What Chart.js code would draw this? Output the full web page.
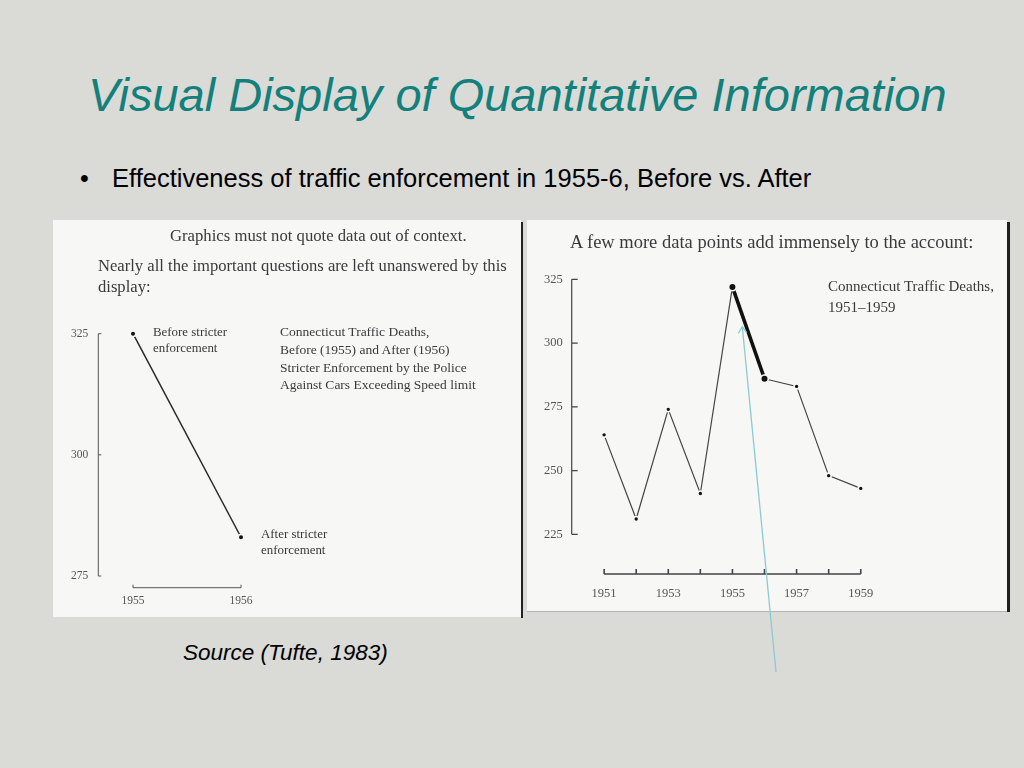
<!DOCTYPE html>
<html><head><meta charset="utf-8">
<script src="https://cdn.jsdelivr.net/npm/chart.js@4.4.1/dist/chart.umd.min.js"></script>
<style>
html,body{margin:0;padding:0;}
body{width:1024px;height:768px;position:relative;overflow:hidden;background:#dadad7;font-family:"Liberation Sans",Arial,sans-serif;}
.abs{position:absolute;white-space:nowrap;line-height:1;}
.serif{font-family:"Liberation Serif","DejaVu Serif",serif;color:#3a3a3a;}
.panel{position:absolute;background:#f7f7f5;}
#panelL{left:53px;top:220px;width:468px;height:397px;}
#panelR{left:527px;top:220px;width:480px;height:392px;}
#sep{position:absolute;left:521px;top:222px;width:2px;height:396px;background:#222;}
#edgeR{position:absolute;left:1007px;top:222px;width:3px;height:390px;background:#1e1e1e;}
#botR{position:absolute;left:527px;top:611px;width:480px;height:1px;background:#b4b4b4;}
#title{left:88px;top:71px;font-size:47px;font-style:italic;color:#12807b;}
#bullet{left:80px;top:166px;font-size:25px;color:#000;}
#btext{left:112px;top:166px;font-size:25.5px;color:#000;}
#source{left:183px;top:642px;font-size:22.5px;font-style:italic;color:#000;}
svg{position:absolute;left:0;top:0;}
</style></head>
<body>
<div class="panel" id="panelL"><canvas id="chartL"></canvas></div>
<div id="sep"></div>
<div class="panel" id="panelR"><canvas id="chartR"></canvas></div>
<div id="edgeR"></div>
<div id="botR"></div>

<div class="abs" id="title">Visual Display of Quantitative Information</div>
<div class="abs" id="bullet">•</div>
<div class="abs" id="btext">Effectiveness of traffic enforcement in 1955-6, Before vs. After</div>
<div class="abs" id="source">Source (Tufte, 1983)</div>

<!-- left panel texts -->
<div class="abs serif" style="left:170px;top:228px;font-size:16.7px;">Graphics must not quote data out of context.</div>
<div class="abs serif" style="left:98px;top:258px;font-size:16.6px;">Nearly all the important questions are left unanswered by this</div>
<div class="abs serif" style="left:98px;top:279px;font-size:16.6px;">display:</div>
<div class="abs serif" style="left:153px;top:326px;font-size:12.9px;">Before stricter</div>
<div class="abs serif" style="left:153px;top:342px;font-size:12.9px;">enforcement</div>
<div class="abs serif" style="left:280px;top:325px;font-size:13.5px;">Connecticut Traffic Deaths,</div>
<div class="abs serif" style="left:280px;top:343px;font-size:13.5px;">Before (1955) and After (1956)</div>
<div class="abs serif" style="left:280px;top:361px;font-size:13.5px;">Stricter Enforcement by the Police</div>
<div class="abs serif" style="left:280px;top:378px;font-size:13.5px;">Against Cars Exceeding Speed limit</div>
<div class="abs serif" style="left:261px;top:528px;font-size:12.9px;">After stricter</div>
<div class="abs serif" style="left:261px;top:544px;font-size:12.9px;">enforcement</div>

<!-- right panel texts -->
<div class="abs serif" style="left:570px;top:233px;font-size:18.5px;">A few more data points add immensely to the account:</div>
<div class="abs serif" style="left:828px;top:279px;font-size:15px;">Connecticut Traffic Deaths,</div>
<div class="abs serif" style="left:828px;top:300px;font-size:15px;">1951–1959</div>

<svg width="1024" height="768">
  <g stroke="#8ccad2" stroke-width="1.3" fill="none">
    <line x1="776" y1="672" x2="742.3" y2="326.7"/>
    <polyline points="738.3,333.5 742.3,326.7 746.7,332.7"/>
  </g>
</svg>

<script>
// ---- data ----
const leftYears = [1955, 1956];
const leftDeaths = [325, 283];
const leftYTicks = [275, 300, 325];
const leftXTicks = [1955, 1956];

const rightYears = [1951, 1952, 1953, 1954, 1955, 1956, 1957, 1958, 1959];
const rightDeaths = [264, 231, 274, 241, 322, 286, 283, 248, 243];
const rightYTicks = [225, 250, 275, 300, 325];
const rightXLabels = [1951, 1953, 1955, 1957, 1959];
const rightXTickMarks = [1951, 1952, 1953, 1954, 1955, 1956, 1957, 1958, 1959];

// ---- Tufte range-frame axes drawn through the chart's scales ----
const rangeFrame = {
  id: 'rangeFrame',
  afterDraw(chart, args, o) {
    const {ctx, chartArea} = chart;
    const xs = chart.scales.x, ys = chart.scales.y;
    ctx.save();
    ctx.strokeStyle = o.color;
    ctx.lineWidth = o.lineWidth;
    const ax = chartArea.left;
    const yTop = ys.getPixelForValue(Math.max(...o.yTicks));
    const yBot = ys.getPixelForValue(Math.min(...o.yTicks));
    ctx.beginPath();
    ctx.moveTo(ax, yTop); ctx.lineTo(ax, yBot);
    o.yTicks.forEach(v => {
      const py = ys.getPixelForValue(v);
      ctx.moveTo(ax, py); ctx.lineTo(ax + o.yTickLen, py);
    });
    ctx.stroke();
    const ay = chartArea.bottom + o.xOffset;
    const xL = xs.getPixelForValue(Math.min(...o.xTicks));
    const xR = xs.getPixelForValue(Math.max(...o.xTicks));
    ctx.lineWidth = o.xLineWidth;
    ctx.beginPath();
    ctx.moveTo(xL, ay); ctx.lineTo(xR, ay);
    o.xTicks.forEach(v => {
      const px = xs.getPixelForValue(v);
      ctx.moveTo(px, ay); ctx.lineTo(px, ay - o.xTickLen);
    });
    ctx.stroke();
    ctx.restore();
  }
};

const serif = "'Liberation Serif', 'DejaVu Serif', serif";
function fixed(prop, val) { return s => { s[prop] = val; }; }

// ---- left chart ----
new Chart(document.getElementById('chartL'), {
  type: 'line',
  data: {
    datasets: [{
      data: leftYears.map((x, i) => ({x, y: leftDeaths[i]})),
      clip: false,
      borderColor: '#2a2a2a',
      borderWidth: 1.5,
      pointRadius: 2.8,
      pointBorderWidth: 1.6,
      pointBackgroundColor: '#111',
      pointBorderColor: '#f7f7f5'
    }]
  },
  options: {
    responsive: true, maintainAspectRatio: false, animation: false,
    layout: {padding: {top: 113.7, right: 64, left: 0, bottom: 0}},
    plugins: {
      legend: {display: false}, tooltip: {enabled: false},
      rangeFrame: {color: '#555', lineWidth: 1, xLineWidth: 1, yTicks: leftYTicks, yTickLen: 3,
                   xTicks: leftXTicks, xOffset: 11.7, xTickLen: 3}
    },
    scales: {
      x: {
        type: 'linear', min: 1954.6787, max: 1958,
        afterBuildTicks: s => { s.ticks = leftXTicks.map(v => ({value: v})); },
        afterFit: fixed('height', 41),
        grid: {display: false, drawTicks: false}, border: {display: false},
        ticks: {padding: 18, color: '#555', font: {family: serif, size: 11.5}, callback: v => String(v)}
      },
      y: {
        min: 275, max: 325,
        afterBuildTicks: s => { s.ticks = leftYTicks.map(v => ({value: v})); },
        afterFit: fixed('width', 45.3),
        grid: {display: false, drawTicks: false}, border: {display: false},
        ticks: {padding: 10, color: '#555', font: {family: serif, size: 11.5}}
      }
    }
  },
  plugins: [rangeFrame]
});

// ---- right chart ----
new Chart(document.getElementById('chartR'), {
  type: 'line',
  data: {
    datasets: [{
      data: rightYears.map((x, i) => ({x, y: rightDeaths[i]})),
      clip: false,
      borderColor: '#333',
      borderWidth: 1.2,
      segment: {
        borderWidth: c => (c.p0DataIndex === 4 ? 3.6 : 1.2),
        borderColor: c => (c.p0DataIndex === 4 ? '#111' : '#444')
      },
      pointRadius: c => (c.dataIndex === 4 || c.dataIndex === 5 ? 3.8 : 2.5),
      pointBorderWidth: 1.6,
      pointBackgroundColor: '#111',
      pointBorderColor: '#f7f7f5'
    }]
  },
  options: {
    responsive: true, maintainAspectRatio: false, animation: false,
    layout: {padding: {top: 59.3, right: 50, left: 0, bottom: 0}},
    plugins: {
      legend: {display: false}, tooltip: {enabled: false},
      rangeFrame: {color: '#444', lineWidth: 1.2, xLineWidth: 1.6, yTicks: rightYTicks, yTickLen: 6,
                   xTicks: rightXTickMarks, xOffset: 39.7, xTickLen: 5}
    },
    scales: {
      x: {
        type: 'linear', min: 1949.99, max: 1962,
        afterBuildTicks: s => { s.ticks = rightXLabels.map(v => ({value: v})); },
        afterFit: fixed('height', 77.7),
        grid: {display: false, drawTicks: false}, border: {display: false},
        ticks: {padding: 52, color: '#555', font: {family: serif, size: 12.5}, callback: v => String(v)}
      },
      y: {
        min: 225, max: 325,
        afterBuildTicks: s => { s.ticks = rightYTicks.map(v => ({value: v})); },
        afterFit: fixed('width', 44.7),
        grid: {display: false, drawTicks: false}, border: {display: false},
        ticks: {padding: 9, color: '#555', font: {family: serif, size: 12.5}}
      }
    }
  },
  plugins: [rangeFrame]
});
</script>
</body></html>
